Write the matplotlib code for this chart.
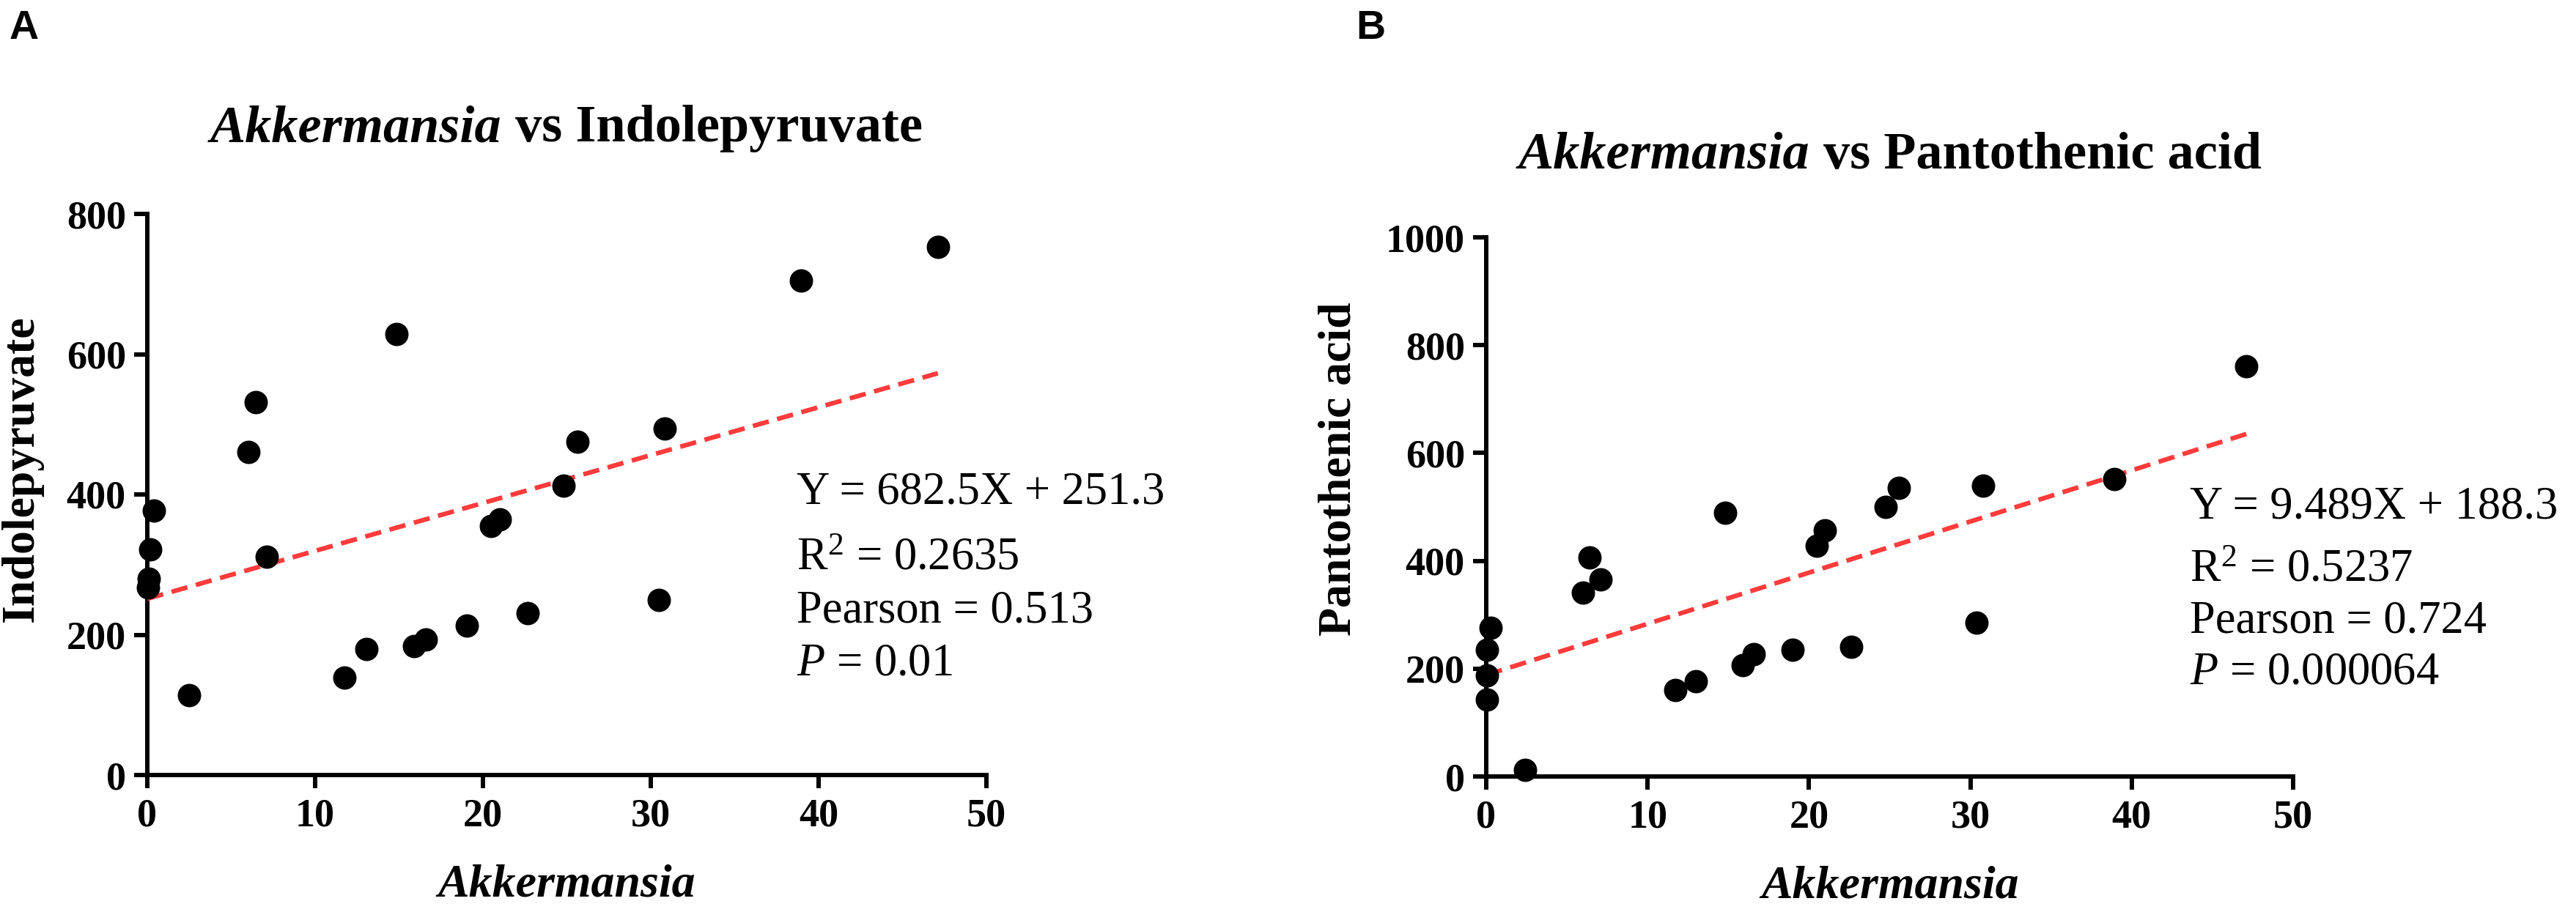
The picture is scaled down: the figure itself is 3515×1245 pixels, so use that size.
import matplotlib
matplotlib.use("Agg")
import matplotlib.pyplot as plt
import numpy as np

plt.rcParams['font.family'] = ['Liberation Serif', 'DejaVu Serif']
plt.rcParams['mathtext.fontset'] = 'custom'
plt.rcParams['mathtext.rm'] = 'Liberation Serif'
plt.rcParams['mathtext.it'] = 'Liberation Serif:italic'
plt.rcParams['mathtext.bf'] = 'Liberation Serif:bold'

# ---------------- data ----------------
# Panel A: Akkermansia (%) vs Indolepyruvate
x_a = [0.4, 0.18, 0.1, 0.03, 2.47, 6.02, 6.48, 7.1, 11.74, 13.05, 14.86, 15.9,
       16.6, 19.05, 20.5, 21.0, 22.67, 24.8, 25.65, 30.85, 30.49, 38.96, 47.1]
y_a = [377, 322, 280, 267, 114, 461, 532, 311, 139, 180, 629, 184,
       193, 213, 355, 364, 231, 413, 475, 494, 250, 705, 753]
slope_a, intercept_a = 682.5, 251.3      # equation uses X as a fraction
stats_a = ["Y = 682.5X + 251.3", "R$^2$ = 0.2635", "Pearson = 0.513", "$P$ = 0.01"]

# Panel B: Akkermansia (%) vs Pantothenic acid
x_b = [0.28, 0.04, 0.04, 0.04, 2.4, 5.98, 6.4, 7.08, 11.7, 13.0, 14.8, 15.9,
       16.57, 19.0, 20.5, 21.0, 22.6, 24.75, 25.55, 30.8, 30.4, 38.9, 47.1]
y_b = [276, 235, 188, 142, 12, 341, 406, 366, 161, 176, 489, 207,
       227, 235, 428, 457, 241, 500, 535, 539, 285, 551, 761]
slope_b, intercept_b = 9.489, 188.3      # equation uses X in percent
stats_b = ["Y = 9.489X + 188.3", "R$^2$ = 0.5237", "Pearson = 0.724", "$P$ = 0.000064"]

x_ticks = [0, 10, 20, 30, 40, 50]
y_ticks_a = [0, 200, 400, 600, 800]
y_ticks_b = [0, 200, 400, 600, 800, 1000]

# ---------------- figure ----------------
W, H = 3516, 1245
DPI = 100
fig = plt.figure(figsize=(W / DPI, H / DPI), dpi=DPI)


def fx(px):
    return px / W


def fy(py):
    return 1 - py / H


def make_axes(left, right, top, bottom):
    return fig.add_axes([fx(left), fy(bottom), fx(right) - fx(left), fy(top) - fy(bottom)])


def style_axes(ax, yticks):
    ax.set_xlim(0, 50)
    ax.set_ylim(yticks[0], yticks[-1])
    ax.set_xticks(x_ticks)
    ax.set_yticks(yticks)
    for s in ['top', 'right']:
        ax.spines[s].set_visible(False)
    for s in ['left', 'bottom']:
        ax.spines[s].set_linewidth(4.3)
        ax.spines[s].set_capstyle('projecting')
    ax.tick_params(axis='both', direction='out', length=13, width=4.3,
                   labelsize=39)
    ax.tick_params(axis='x', pad=10)
    ax.tick_params(axis='y', pad=8)
    for lab in ax.get_xticklabels() + ax.get_yticklabels():
        lab.set_fontweight('bold')
        lab.set_fontfamily('Liberation Serif')


ax_a = make_axes(201, 1346, 292, 1058)
ax_b = make_axes(2028, 3129, 324, 1060)

red = '#FF3B3B'

# Panel A
xs_a = np.array([0, max(x_a)])
ax_a.plot(xs_a, intercept_a + slope_a * xs_a / 100, color=red, lw=4.5,
          dashes=(3.6, 1.9), zorder=3)
ax_a.plot(x_a, y_a, 'o', color='black', ms=22, clip_on=False, zorder=5)
style_axes(ax_a, y_ticks_a)

# Panel B
xs_b = np.array([0, max(x_b)])
ax_b.plot(xs_b, intercept_b + slope_b * xs_b, color=red, lw=4.5,
          dashes=(3.6, 1.9), zorder=3)
ax_b.plot(x_b, y_b, 'o', color='black', ms=22, clip_on=False, zorder=5)
style_axes(ax_b, y_ticks_b)

renderer = fig.canvas.get_renderer()


def two_part_title(xc, yb, it_text, rest_text, size):
    t1 = fig.text(0, fy(yb), it_text, fontstyle='italic', fontweight='bold',
                  fontsize=size, va='baseline', ha='left')
    t2 = fig.text(0, fy(yb), rest_text, fontweight='bold',
                  fontsize=size, va='baseline', ha='left')
    w1 = t1.get_window_extent(renderer).width
    w2 = t2.get_window_extent(renderer).width
    left = xc - (w1 + w2) / 2
    t1.set_x(fx(left))
    t2.set_x(fx(left + w1))


two_part_title(773, 193, "Akkermansia", " vs Indolepyruvate", 52)
two_part_title(2579, 230, "Akkermansia", " vs Pantothenic acid", 52)

# axis labels
fig.text(fx(773), fy(1223), "Akkermansia", fontstyle='italic', fontweight='bold',
         fontsize=46, ha='center', va='baseline')
fig.text(fx(2579), fy(1225), "Akkermansia", fontstyle='italic', fontweight='bold',
         fontsize=46, ha='center', va='baseline')
fig.text(fx(30), fy(640), "Indolepyruvate", fontweight='bold', fontsize=46,
         rotation=90, ha='center', va='center')
fig.text(fx(1828), fy(640), "Pantothenic acid", fontweight='bold', fontsize=46,
         rotation=90, ha='center', va='center')

# statistics annotations
for xpx, ybs, lines in [(1087, [688, 777, 850, 922], stats_a),
                        (2988, [708, 793, 863, 933], stats_b)]:
    for yb, line in zip(ybs, lines):
        fig.text(fx(xpx), fy(yb), line, fontsize=45, ha='left', va='baseline')

# panel letters
fig.text(fx(13), fy(53), "A", family=['Liberation Sans', 'DejaVu Sans'],
         fontweight='bold', fontsize=40, ha='left', va='baseline')
fig.text(fx(1850), fy(53), "B", family=['Liberation Sans', 'DejaVu Sans'],
         fontweight='bold', fontsize=40, ha='left', va='baseline')

fig.savefig("out.png", dpi=DPI, facecolor='white')
